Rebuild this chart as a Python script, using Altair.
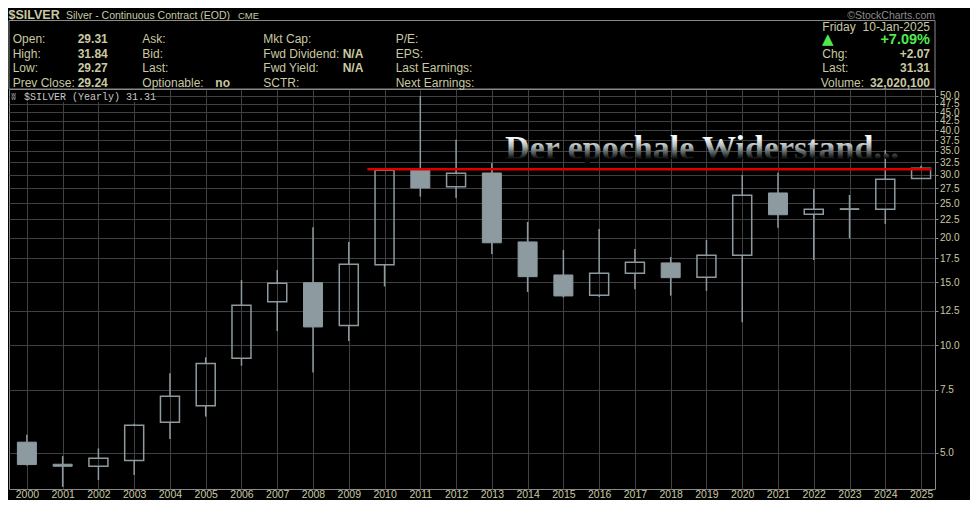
import altair as alt
import pandas as pd

# ---------------- data ----------------
years  = list(range(2000, 2026))
opens  = [5.35, 4.64, 4.58, 4.75, 6.08, 6.77, 9.19, 13.24, 14.97, 11.35, 16.80, 30.96, 27.80,
          30.37, 19.47, 15.73, 13.80, 15.90, 17.00, 15.50, 17.86, 26.70, 23.27, 24.12, 24.03, 29.31]
highs  = [5.61, 4.89, 5.14, 6.02, 8.34, 9.25, 15.23, 16.24, 21.39, 19.47, 31.20, 49.90, 37.65,
          32.40, 22.15, 18.49, 21.16, 18.60, 17.67, 19.72, 29.98, 30.40, 27.40, 26.35, 35.20, 31.84]
lows   = [4.60, 4.01, 4.19, 4.33, 5.46, 6.31, 8.76, 10.96, 8.38, 10.28, 14.60, 26.07, 25.85,
          18.00, 14.10, 13.60, 13.65, 14.35, 13.77, 14.20, 11.60, 21.34, 17.33, 19.93, 21.86, 29.27]
closes = [4.63, 4.58, 4.82, 5.97, 7.19, 8.89, 12.94, 14.91, 11.25, 16.86, 30.90, 27.57, 30.31,
          19.36, 15.56, 13.74, 15.90, 17.08, 15.46, 17.86, 26.30, 23.20, 24.03, 24.00, 29.17, 31.31]

res_level = [31.1]
res_from = [2009.52]
res_to = [2025.28]

y_ticks = [5.0, 7.5, 10.0, 12.5, 15.0, 17.5, 20.0, 22.5, 25.0, 27.5, 30.0,
           32.5, 35.0, 37.5, 40.0, 42.5, 45.0, 47.5, 50.0]

symbol = "$SILVER"
subtitle = "Silver - Continuous Contract (EOD)"
exchange = "CME"
col1_labels = ["Open:", "High:", "Low:", "Prev Close:"]
col1_values = ["29.31", "31.84", "29.27", "29.24"]
col2_labels = ["Ask:", "Bid:", "Last:", "Optionable:"]
col3_labels = ["Mkt Cap:", "Fwd Dividend:", "Fwd Yield:", "SCTR:"]
col4_labels = ["P/E:", "EPS:", "Last Earnings:", "Next Earnings:"]
day_text, date_text = "Friday", "10-Jan-2025"
pct_text = "+7.09%"
right_labels = ["Chg:", "Last:", "Volume:"]
right_values = ["+2.07", "31.31", "32,020,100"]
plot_label = "$SILVER (Yearly) 31.31"
headline = "Der epochale Widerstand..."

# ---------------- styles ----------------
TAN = "#c9c9a2"
GRID = "#404040"
BORDER = "#8a8a8a"
CANDLE = "#8d9aa0"
RED = "#dd0000"
GREEN = "#50ea50"
SANS = "Liberation Sans"
MONO = "Liberation Mono"

W, H = 926, 400
LEFT, TOP = 9, 89  # page position of the plot area


def px(x):
    return x - LEFT


def py(y):
    return y - TOP


df = pd.DataFrame(dict(year=years, open=opens, high=highs, low=lows, close=closes))
res = pd.DataFrame(dict(level=res_level, x0=res_from, x1=res_to))

xaxis = alt.Axis(values=years, format="d", grid=True, gridColor=GRID, gridWidth=1,
                 ticks=False, tickSize=0, domain=False, labelColor=TAN, labelFont=SANS,
                 labelFontSize=10.5, labelBaseline="alphabetic", labelPadding=8.5,
                 labelFlush=False, labelOverlap=False, title=None)
yaxis = alt.Axis(values=y_ticks, format=".1f", orient="right", grid=True, gridColor=GRID,
                 gridWidth=1, ticks=True, tickSize=3, tickColor=BORDER, domain=False,
                 labelColor=TAN, labelFont=SANS, labelFontSize=10, labelPadding=1.5,
                 labelOverlap=False, labelFlush=False, labelBaseline="middle", title=None)
xscale = alt.Scale(domain=[1999.5, 2025.39], nice=False, zero=False, padding=0)
yscale = alt.Scale(type="log", domain=[3.955, 52.21], nice=False, zero=False, padding=0)

X = alt.X("year:Q", scale=xscale, axis=xaxis)

base = alt.Chart(df).transform_calculate(
    top="max(datum.open, datum.close)", bot="min(datum.open, datum.close)"
)

upper_wick = base.mark_rule(color=CANDLE, strokeWidth=1.5).encode(
    x=X, y=alt.Y("high:Q", scale=yscale, axis=yaxis), y2=alt.Y2("top:Q"))
lower_wick = base.mark_rule(color=CANDLE, strokeWidth=1.5).encode(
    x=X, y=alt.Y("bot:Q", scale=yscale, axis=yaxis), y2=alt.Y2("low:Q"))
down_body = base.transform_filter("datum.close < datum.open").mark_bar(
    size=19, color=CANDLE, stroke=CANDLE, strokeWidth=1).encode(
    x=X, y=alt.Y("top:Q", scale=yscale, axis=yaxis), y2=alt.Y2("bot:Q"))
up_body = base.transform_filter("datum.close >= datum.open").mark_bar(
    size=19, color=CANDLE, fillOpacity=0, stroke=CANDLE, strokeWidth=1.5).encode(
    x=X, y=alt.Y("top:Q", scale=yscale, axis=yaxis), y2=alt.Y2("bot:Q"))

resistance = alt.Chart(res).mark_rule(color=RED, strokeWidth=2.5).encode(
    x=alt.X("x0:Q", scale=xscale, axis=xaxis), x2="x1:Q",
    y=alt.Y("level:Q", scale=yscale, axis=yaxis))

anchor = alt.Chart(pd.DataFrame({"a": [0]}))


def txt(s, x, y, size=12, bold=False, align="left", color=TAN, font=SANS):
    return anchor.mark_text(
        text=s, align=align, baseline="alphabetic", fontSize=size,
        fontWeight="bold" if bold else "normal", color=color, font=font,
    ).encode(x=alt.value(px(x)), y=alt.value(py(y)))


layers = []

# header box
layers.append(anchor.mark_rect(fillOpacity=0, stroke=BORDER, strokeWidth=1).encode(
    x=alt.value(px(9)), x2=alt.value(px(935)), y=alt.value(py(20.5)), y2=alt.value(py(89))))

# title line
TL = 19.2
layers.append(txt(symbol, 8.5, TL, size=12.5, bold=True))
layers.append(txt(subtitle, 66, TL, size=10.5))
layers.append(txt(exchange, 238, TL, size=9.5))
layers.append(txt("\u00a9StockCharts.com", 935, TL, size=10.5, align="right", color="#8c8c8c"))

rows = [43.3, 57.7, 72.1, 86.5]
for i in range(4):
    layers.append(txt(col1_labels[i], 12.7, rows[i]))
    layers.append(txt(col1_values[i], 77.7, rows[i], bold=True))
    layers.append(txt(col2_labels[i], 142.3, rows[i]))
    layers.append(txt(col3_labels[i], 263.3, rows[i]))
    layers.append(txt(col4_labels[i], 395.7, rows[i]))
layers.append(txt("no", 215.3, rows[3], bold=True))
layers.append(txt("N/A", 342.7, rows[1], bold=True))
layers.append(txt("N/A", 342.7, rows[2], bold=True))

# right block
layers.append(txt(day_text, 822.3, 30.8))
layers.append(txt(date_text, 930, 30.8, align="right"))
layers.append(txt("\u25b2", 822, 44.3, size=15, color=GREEN, font="DejaVu Sans"))
layers.append(txt(pct_text, 930, 44.3, size=14.5, bold=True, color=GREEN, align="right"))
layers.append(txt(right_labels[0], 822.3, rows[1]))
layers.append(txt(right_values[0], 930, rows[1], bold=True, align="right"))
layers.append(txt(right_labels[1], 822.3, rows[2]))
layers.append(txt(right_values[1], 930, rows[2], bold=True, align="right"))
layers.append(txt(right_labels[2], 820.7, rows[3]))
layers.append(txt(right_values[2], 930, rows[3], bold=True, align="right"))

# in-plot label with black backing
label_bg = anchor.mark_rect(color="black").encode(
    x=alt.value(px(10)), x2=alt.value(px(154)), y=alt.value(py(90)), y2=alt.value(py(102)))
label_icon = txt("\u02ac", 11, 99.5, size=10, color="#a0a0a0", font="DejaVu Sans")
label_text = txt(plot_label, 24, 99.5, size=10, color="#c8c8c8", font=MONO)

grad = alt.LinearGradient(
    gradient="linear", x1=0, y1=0, x2=0, y2=1,
    stops=[
        alt.GradientStop(color="#ffffff", offset=0.0),
        alt.GradientStop(color="#f6fafa", offset=0.25),
        alt.GradientStop(color="#b4bcbc", offset=0.45),
        alt.GradientStop(color="#4a5252", offset=0.66),
        alt.GradientStop(color="#0a0a0a", offset=0.8),
        alt.GradientStop(color="#000000", offset=1.0),
    ],
)
headline_mark = anchor.mark_text(
    text=headline, align="center", baseline="alphabetic", fontSize=34, fontWeight="bold",
    font="'Liberation Serif', serif",
    fill=grad,
).encode(x=alt.value(px(702)), y=alt.value(py(159)))

chart = alt.layer(
    upper_wick, lower_wick, down_body, up_body, resistance,
    label_bg, label_icon, label_text, headline_mark, *layers,
).properties(
    width=W, height=H,
    padding={"left": 1, "top": 81, "right": 35, "bottom": 11},
    autosize=alt.AutoSizeParams(type="none"),
    background="black",
).configure_view(stroke=BORDER, strokeWidth=1)

chart.save("out.html", embed_options={"renderer": "svg", "actions": False})
